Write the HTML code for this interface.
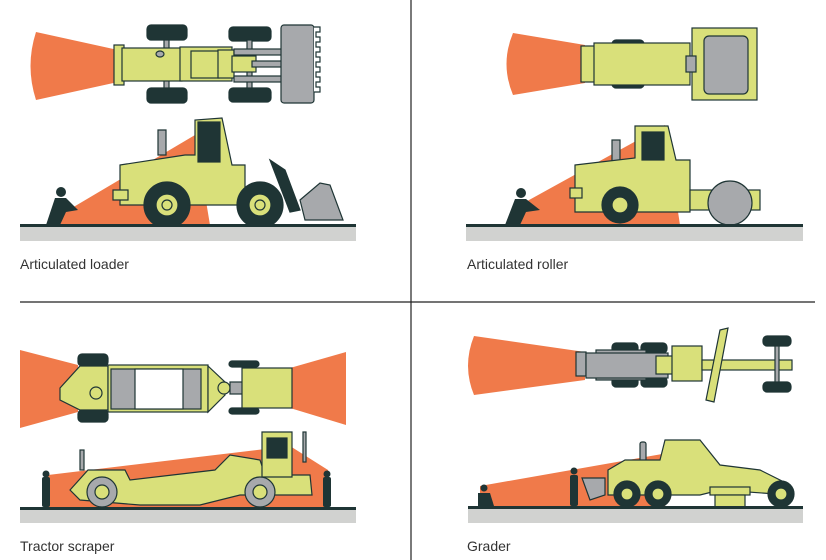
<!DOCTYPE html>
<html><head><meta charset="utf-8"><style>
html,body{margin:0;padding:0;background:#fff;width:826px;height:560px;overflow:hidden}
svg{display:block}
text{font-family:"Liberation Sans",sans-serif;font-size:14px;fill:#333}
</style></head><body>
<svg width="826" height="560" viewBox="0 0 826 560" xmlns="http://www.w3.org/2000/svg">
<g stroke="#222" stroke-width="1.2">
<line x1="411" y1="0" x2="411" y2="560"/>
<line x1="20" y1="302" x2="815" y2="302"/>
</g>

<!-- ============ ARTICULATED LOADER ============ -->
<path d="M36,32 L118,50 L118,82 L36,100 Q25,66 36,32 Z" fill="#f07a4a"/>
<g stroke="#1f3535" stroke-width="1.2">
<rect x="147" y="25" width="40" height="15" rx="4" fill="#1f3535"/>
<rect x="147" y="88" width="40" height="15" rx="4" fill="#1f3535"/>
<rect x="229" y="27" width="42" height="14" rx="4" fill="#1f3535"/>
<rect x="229" y="88" width="42" height="14" rx="4" fill="#1f3535"/>
<rect x="164" y="40" width="5" height="48" fill="#a7a9ac"/>
<rect x="247" y="40" width="5" height="48" fill="#a7a9ac"/>
<rect x="114" y="45" width="10" height="40" fill="#d9e07a"/>
<rect x="122" y="48" width="60" height="33" fill="#d9e07a"/>
<rect x="180" y="47" width="52" height="34" fill="#d9e07a"/>
<rect x="191" y="51" width="28" height="27" fill="#d9e07a"/>
<rect x="218" y="50" width="16" height="28" fill="#d9e07a"/>
<rect x="232" y="56" width="24" height="16" fill="#d9e07a"/>
<rect x="234" y="49" width="48" height="6" fill="#a7a9ac"/>
<rect x="252" y="61" width="30" height="6" fill="#a7a9ac"/>
<rect x="234" y="76" width="48" height="6" fill="#a7a9ac"/>
<rect x="281" y="25" width="33" height="78" rx="3" fill="#a7a9ac"/>
<path d="M314,27 h6 v5 h-4 v5 h4 v5 h-4 v5 h4 v5 h-4 v5 h4 v5 h-4 v5 h4 v5 h-4 v5 h4 v5 h-4 v5 h4 v5 h-6" fill="#fff"/>
<ellipse cx="160" cy="54" rx="4" ry="3" fill="#a7a9ac"/>
</g>
<!-- side -->
<path d="M60,215 L195,135 L210,225 L60,225 Z" fill="#f07a4a"/>
<g stroke="#1f3535" stroke-width="1.2">
<path d="M158,130 h8 v25 h-8 z" fill="#a7a9ac"/>
<path d="M120,165 L185,155 L195,155 L195,120 L222,118 L232,165 L245,165 L245,205 L120,205 Z" fill="#d9e07a"/>
<path d="M113,190 h15 v10 h-15 z" fill="#d9e07a"/>
<rect x="198" y="122" width="22" height="40" fill="#1f3535"/>
<circle cx="167" cy="205" r="23" fill="#1f3535"/>
<circle cx="167" cy="205" r="11" fill="#d9e07a"/>
<circle cx="167" cy="205" r="5" fill="#d9e07a"/>
<circle cx="260" cy="205" r="23" fill="#1f3535"/>
<circle cx="260" cy="205" r="11" fill="#d9e07a"/>
<circle cx="260" cy="205" r="5" fill="#d9e07a"/>
<path d="M270,160 L285,170 L300,210 L290,212 Z" fill="#1f3535"/>
<path d="M300,200 L320,183 L330,185 L343,220 L305,220 Z" fill="#a7a9ac"/>
</g>
<rect x="20" y="224" width="336" height="3" fill="#1f3535"/>
<rect x="20" y="227" width="336" height="14" fill="#d1d2d0"/>
<circle cx="61" cy="192" r="5" fill="#1f3535"/>
<path d="M55,198 L66,198 L78,210 L66,212 L60,225 L46,225 Z" fill="#1f3535"/>
<text x="20" y="269">Articulated loader</text>

<!-- ============ ARTICULATED ROLLER ============ -->
<path d="M513,33 L585,45 L585,83 L513,95 Q500,64 513,33 Z" fill="#f07a4a"/>
<g stroke="#1f3535" stroke-width="1.2">
<rect x="612" y="40" width="32" height="11" rx="4" fill="#1f3535"/>
<rect x="612" y="77" width="32" height="11" rx="4" fill="#1f3535"/>
<rect x="581" y="46" width="14" height="36" fill="#d9e07a"/>
<rect x="594" y="43" width="96" height="42" fill="#d9e07a"/>
<rect x="692" y="28" width="65" height="72" fill="#d9e07a"/>
<rect x="704" y="36" width="44" height="58" rx="5" fill="#a7a9ac"/>
<rect x="686" y="56" width="10" height="16" fill="#a7a9ac"/>
</g>
<path d="M520,205 L665,125 L680,225 L520,225 Z" fill="#f07a4a"/>
<g stroke="#1f3535" stroke-width="1.2">
<rect x="612" y="140" width="8" height="22" fill="#a7a9ac"/>
<path d="M575,165 L635,158 L635,126 L668,126 L676,160 L690,160 L690,212 L575,212 Z" fill="#d9e07a"/>
<rect x="570" y="188" width="12" height="10" fill="#d9e07a"/>
<rect x="642" y="132" width="22" height="28" fill="#1f3535"/>
<circle cx="620" cy="205" r="18" fill="#1f3535"/>
<circle cx="620" cy="205" r="8" fill="#d9e07a"/>
<rect x="690" y="190" width="70" height="20" fill="#d9e07a"/>
<circle cx="730" cy="203" r="22" fill="#a7a9ac"/>
</g>
<rect x="466" y="224" width="337" height="3" fill="#1f3535"/>
<rect x="466" y="227" width="337" height="14" fill="#d1d2d0"/>
<circle cx="521" cy="193" r="5" fill="#1f3535"/>
<path d="M515,199 L526,199 L540,210 L526,212 L520,225 L505,225 Z" fill="#1f3535"/>
<text x="467" y="269">Articulated roller</text>

<!-- ============ TRACTOR SCRAPER ============ -->
<path d="M20,350 L78,365 L78,412 L20,428 Z" fill="#f07a4a"/>
<path d="M290,368 L346,352 L346,425 L290,408 Z" fill="#f07a4a"/>
<g stroke="#1f3535" stroke-width="1.2">
<rect x="78" y="354" width="30" height="12" rx="4" fill="#1f3535"/>
<rect x="78" y="410" width="30" height="12" rx="4" fill="#1f3535"/>
<rect x="229" y="361" width="30" height="6" rx="3" fill="#1f3535"/>
<rect x="229" y="408" width="30" height="6" rx="3" fill="#1f3535"/>
<path d="M60,388 L80,366 L108,366 L108,410 L80,410 L60,400 Z" fill="#d9e07a"/>
<rect x="108" y="365" width="100" height="47" fill="#d9e07a"/>
<rect x="111" y="369" width="90" height="40" fill="#a7a9ac"/>
<rect x="135" y="369" width="48" height="40" fill="#fff"/>
<path d="M208,366 L225,382 L225,395 L208,412 Z" fill="#d9e07a"/>
<circle cx="224" cy="388" r="6" fill="#d9e07a"/>
<rect x="230" y="382" width="14" height="12" fill="#a7a9ac"/>
<rect x="242" y="368" width="50" height="40" fill="#d9e07a"/>
<circle cx="96" cy="393" r="6" fill="#d9e07a"/>
</g>
<path d="M48,475 L290,446 L328,470 L328,508 L48,508 Z" fill="#f07a4a"/>
<g stroke="#1f3535" stroke-width="1.2">
<rect x="80" y="450" width="4" height="20" fill="#a7a9ac"/>
<path d="M70,490 L88,470 L125,470 L130,480 L215,470 L230,455 L260,460 L265,475 L310,475 L312,495 L240,495 L200,505 L140,505 L80,500 Z" fill="#d9e07a"/>
<path d="M262,432 h30 v45 h-30 z" fill="#d9e07a"/>
<rect x="267" y="438" width="20" height="20" fill="#1f3535"/>
<rect x="303" y="432" width="3" height="30" fill="#a7a9ac"/>
<circle cx="102" cy="492" r="15" fill="#a7a9ac"/>
<circle cx="102" cy="492" r="7" fill="#d9e07a"/>
<circle cx="260" cy="492" r="15" fill="#a7a9ac"/>
<circle cx="260" cy="492" r="7" fill="#d9e07a"/>
</g>
<rect x="20" y="507" width="336" height="3" fill="#1f3535"/>
<rect x="20" y="510" width="336" height="13" fill="#d1d2d0"/>
<circle cx="46" cy="474" r="3.5" fill="#1f3535"/>
<rect x="42" y="477" width="8" height="30" rx="2" fill="#1f3535"/>
<circle cx="327" cy="474" r="3.5" fill="#1f3535"/>
<rect x="323" y="477" width="8" height="30" rx="2" fill="#1f3535"/>
<text x="20" y="551">Tractor scraper</text>

<!-- ============ GRADER ============ -->
<path d="M474,336 L585,352 L585,380 L474,395 Q462,366 474,336 Z" fill="#f07a4a"/>
<g stroke="#1f3535" stroke-width="1.2">
<rect x="612" y="343" width="26" height="10" rx="4" fill="#1f3535"/>
<rect x="641" y="343" width="26" height="10" rx="4" fill="#1f3535"/>
<rect x="612" y="377" width="26" height="10" rx="4" fill="#1f3535"/>
<rect x="641" y="377" width="26" height="10" rx="4" fill="#1f3535"/>
<rect x="576" y="352" width="10" height="24" fill="#a7a9ac"/>
<rect x="596" y="350" width="50" height="30" fill="#a7a9ac"/>
<rect x="586" y="353" width="82" height="25" fill="#a7a9ac"/>
<rect x="656" y="356" width="18" height="18" fill="#d9e07a"/>
<rect x="672" y="346" width="30" height="35" fill="#d9e07a"/>
<rect x="702" y="360" width="90" height="10" fill="#d9e07a"/>
<path d="M720,330 L728,328 L714,402 L706,400 Z" fill="#d9e07a"/>
<rect x="763" y="336" width="28" height="10" rx="4" fill="#1f3535"/>
<rect x="763" y="382" width="28" height="10" rx="4" fill="#1f3535"/>
<rect x="775" y="346" width="4" height="36" fill="#a7a9ac"/>
</g>
<path d="M480,486 L668,453 L665,508 L480,508 Z" fill="#f07a4a"/>
<g stroke="#1f3535" stroke-width="1.2">
<rect x="640" y="442" width="6" height="20" rx="2" fill="#a7a9ac"/>
<path d="M608,470 L625,460 L660,460 L665,440 L700,440 L720,465 L760,470 L790,485 L790,495 L720,490 L700,495 L608,495 Z" fill="#d9e07a"/>
<path d="M582,478 L605,478 L605,495 L590,500 Z" fill="#a7a9ac"/>
<rect x="710" y="487" width="40" height="8" fill="#d9e07a"/>
<rect x="715" y="495" width="30" height="12" fill="#d9e07a"/>
<circle cx="627" cy="494" r="13" fill="#1f3535"/>
<circle cx="627" cy="494" r="6" fill="#d9e07a"/>
<circle cx="658" cy="494" r="13" fill="#1f3535"/>
<circle cx="658" cy="494" r="6" fill="#d9e07a"/>
<circle cx="781" cy="494" r="13" fill="#1f3535"/>
<circle cx="781" cy="494" r="6" fill="#d9e07a"/>
</g>
<rect x="468" y="506" width="335" height="3" fill="#1f3535"/>
<rect x="468" y="509" width="335" height="14" fill="#d1d2d0"/>
<circle cx="484" cy="488" r="3.5" fill="#1f3535"/>
<path d="M478,493 L490,493 L494,506 L478,506 Z" fill="#1f3535"/>
<circle cx="574" cy="471" r="3.5" fill="#1f3535"/>
<rect x="570" y="475" width="8" height="31" rx="2" fill="#1f3535"/>
<text x="467" y="551">Grader</text>
</svg>
</body></html>
